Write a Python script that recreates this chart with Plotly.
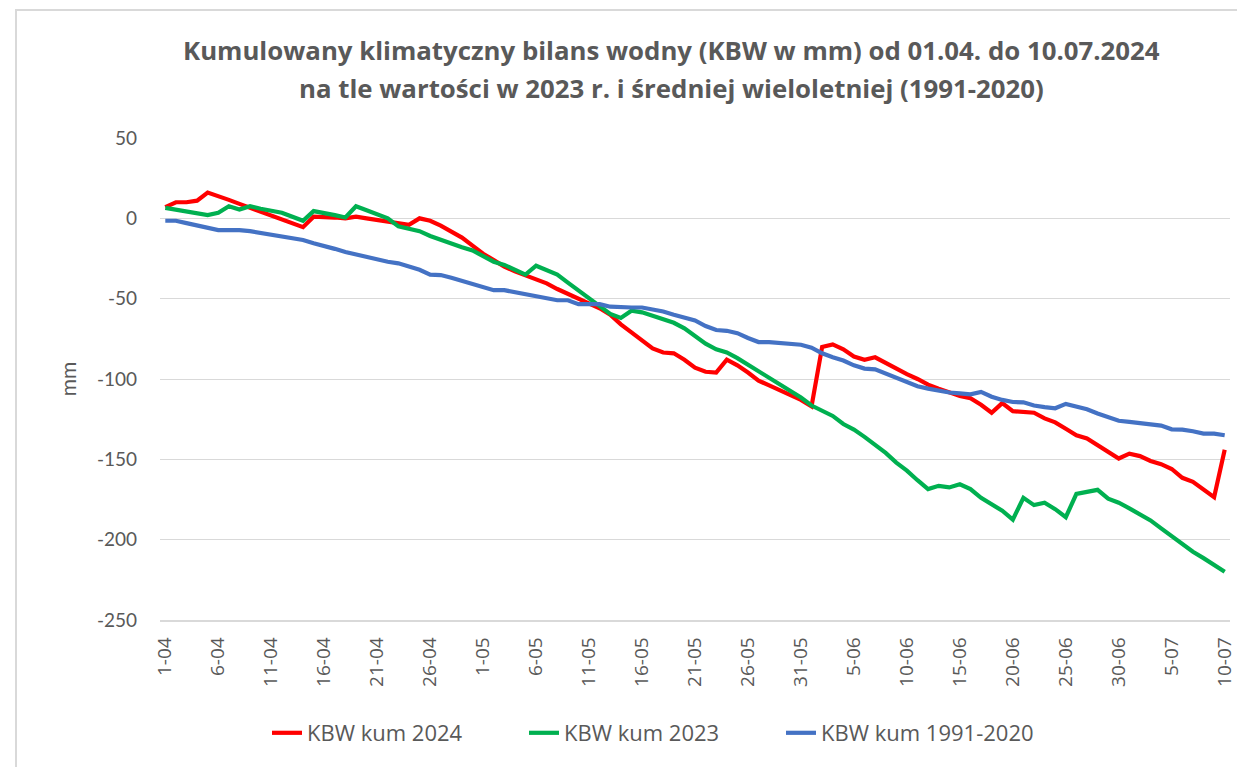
import plotly.graph_objects as go

# Categories: daily from 1-04 to 10-07
days_per_month = [("04", 30), ("05", 31), ("06", 30), ("07", 10)]
categories = [f"{d}-{m}" for m, n in days_per_month for d in range(1, n + 1)]

tick_labels = categories[::5]
y_ticks = [50, 0, -50, -100, -150, -200, -250]
y_tick_text = ["50", "0", "-50", "-100", "-150", "-200", "-250"]

kbw_2024 = [
    7, 10, 10, 11, 16, 14, 11.5, 9, 6.5, 4,
    1.5, -1, -3, -5.5, 1, 1, 0.5, 0, 1, 0,
    -1, -2, -3, -4, 0, -1.5, -4.5, -8, -12, -17,
    -22, -26, -30, -33, -35.5, -38, -40.5, -44, -47, -50,
    -53, -56, -60, -66, -71, -76, -81, -83.5, -84, -88,
    -93, -95.5, -96, -88, -91.5, -96, -101, -104, -107, -110,
    -113, -117, -80, -78.5, -81.5, -86, -88, -86.5, -90, -94,
    -97, -100, -103.5, -106, -108.5, -110.5, -112, -116, -121, -115,
    -120, -120.5, -121, -124.5, -127, -131, -135, -137, -141, -145.5,
    -149.5, -146.5, -148, -151, -153, -156, -161.5, -164, -168.5, -173.5,
    -144,
]

kbw_2023 = [
    6.5, 5.5, 4, 3.5, 2, 3.5, 7.5, 5.5, 7.5, 6,
    4.5, 3.5, 1, -1.5, 4.5, 3.5, 2, 0.5, 7.5, 5,
    2.5, 0, -5, -6.5, -8, -11, -13.5, -16, -18, -20,
    -23.5, -27, -29, -32, -35, -29.5, -32, -35, -40, -45,
    -50, -54.5, -59.5, -62, -57.5, -58.5, -60.5, -63, -65, -68.5,
    -73, -78, -81.5, -83.5, -87, -91, -95, -99, -103, -107,
    -111.5, -116.5, -119.5, -123, -128, -131.5, -136, -141, -146, -152,
    -157, -163, -168.5, -166.5, -167.5, -165.5, -168.5, -174, -178, -182,
    -187.5, -174, -178.5, -177, -181, -186, -171.5, -170, -169, -174.5,
    -177, -180.5, -184.5, -188, -193, -198, -203, -207.5, -211.5, -216,
    -220,
]

kbw_1991_2020 = [
    -1.5, -1.5, -3, -4.5, -6, -7.3, -7.3, -7.3, -8, -9,
    -10.5, -11.5, -12.5, -13.5, -15.5, -17, -19, -21, -22.5, -24,
    -26, -27, -28, -30, -32, -35, -35.3, -37, -39, -40.5,
    -42.5, -44.7, -44.7, -46, -47.2, -48.5, -50.3, -51, -51, -53.4,
    -53.4, -53.4, -55, -55.5, -55.5, -55.5, -56.5, -58, -60, -61.7,
    -63.5, -67, -69.5, -70, -71.5, -74.5, -77, -77, -77.5, -78.5,
    -78.7, -80.5, -84, -86.5, -88.5, -91.5, -93.5, -94, -96.5, -99.5,
    -102, -104.5, -106, -107.5, -108.4, -109, -109.5, -108, -111, -113,
    -114.3, -114.5, -116.5, -117.5, -118.2, -115.5, -117, -118.8, -121.5, -124,
    -126, -126.7, -127.5, -128.3, -129, -131.3, -131.5, -132.5, -134, -134,
    -135,
]

series = [
    ("KBW kum 2024", kbw_2024, "#FF0000"),
    ("KBW kum 2023", kbw_2023, "#00B050"),
    ("KBW kum 1991-2020", kbw_1991_2020, "#4472C4"),
]

title_lines = [
    "Kumulowany klimatyczny bilans wodny (KBW w mm) od 01.04. do 10.07.2024",
    "na tle wartości w 2023 r. i średniej wieloletniej (1991-2020)",
]

FONT = "'Open Sans', Lato, sans-serif"
GREY = "#595959"

# plot area (in figure pixels): x 152..1222, y 130..612
L, R, T, B = 152, 23, 130, 155
PW, PH = 1245 - L - R, 767 - T - B


def px_x(x):
    return (x - L) / PW


def px_y(y):
    return (767 - B - y) / PH


fig = go.Figure()
for name, vals, color in series:
    fig.add_trace(go.Scatter(
        x=categories, y=vals, mode="lines", name=name,
        line=dict(color=color, width=4.2),
    ))

fig.update_layout(
    width=1245, height=767,
    paper_bgcolor="white", plot_bgcolor="white",
    margin=dict(l=L, r=R, t=T, b=B),
    font=dict(family=FONT, color=GREY),
    showlegend=True,
    legend=dict(orientation="h", x=px_x(259), xanchor="left", y=px_y(725), yanchor="middle",
                font=dict(size=22, color=GREY, family=FONT),
                entrywidth=212, entrywidthmode="pixels",
                tracegroupgap=0),
)

for txt, ypix in zip(title_lines, [42, 80]):
    fig.add_annotation(text=txt, xref="paper", yref="paper",
                       x=px_x(663), y=px_y(ypix), xanchor="center", yanchor="middle",
                       showarrow=False,
                       font=dict(family=FONT, size=25.8, color=GREY, weight="bold"))

fig.update_xaxes(
    type="category", categoryorder="array", categoryarray=categories,
    range=[-0.5, len(categories) - 0.5],
    tickmode="array", tickvals=tick_labels, ticktext=tick_labels,
    tickangle=-90, tickfont=dict(size=19, color=GREY, family=FONT),
    showgrid=False, showline=True, linecolor="#D9D9D9", linewidth=1.5,
    ticks="", ticklabelstandoff=8,
)
fig.update_yaxes(
    range=[-250, 50], tickmode="array", tickvals=y_ticks, ticktext=y_tick_text,
    tickfont=dict(size=19, color=GREY, family="Lato, sans-serif"),
    showgrid=True, gridcolor="#D9D9D9", gridwidth=1.3,
    zeroline=False, showline=False, ticks="",
    ticklabelstandoff=22,
    title=dict(text="mm", font=dict(size=21, color=GREY, family="Lato, sans-serif"), standoff=14),
)

# Chart frame border (top and left visible)
fig.add_shape(type="rect", xref="paper", yref="paper",
              x0=px_x(8), x1=px_x(1270),
              y0=px_y(790), y1=px_y(2),
              line=dict(color="#D9D9D9", width=2), fillcolor="rgba(0,0,0,0)", layer="below")

fig.write_html("out.html")
